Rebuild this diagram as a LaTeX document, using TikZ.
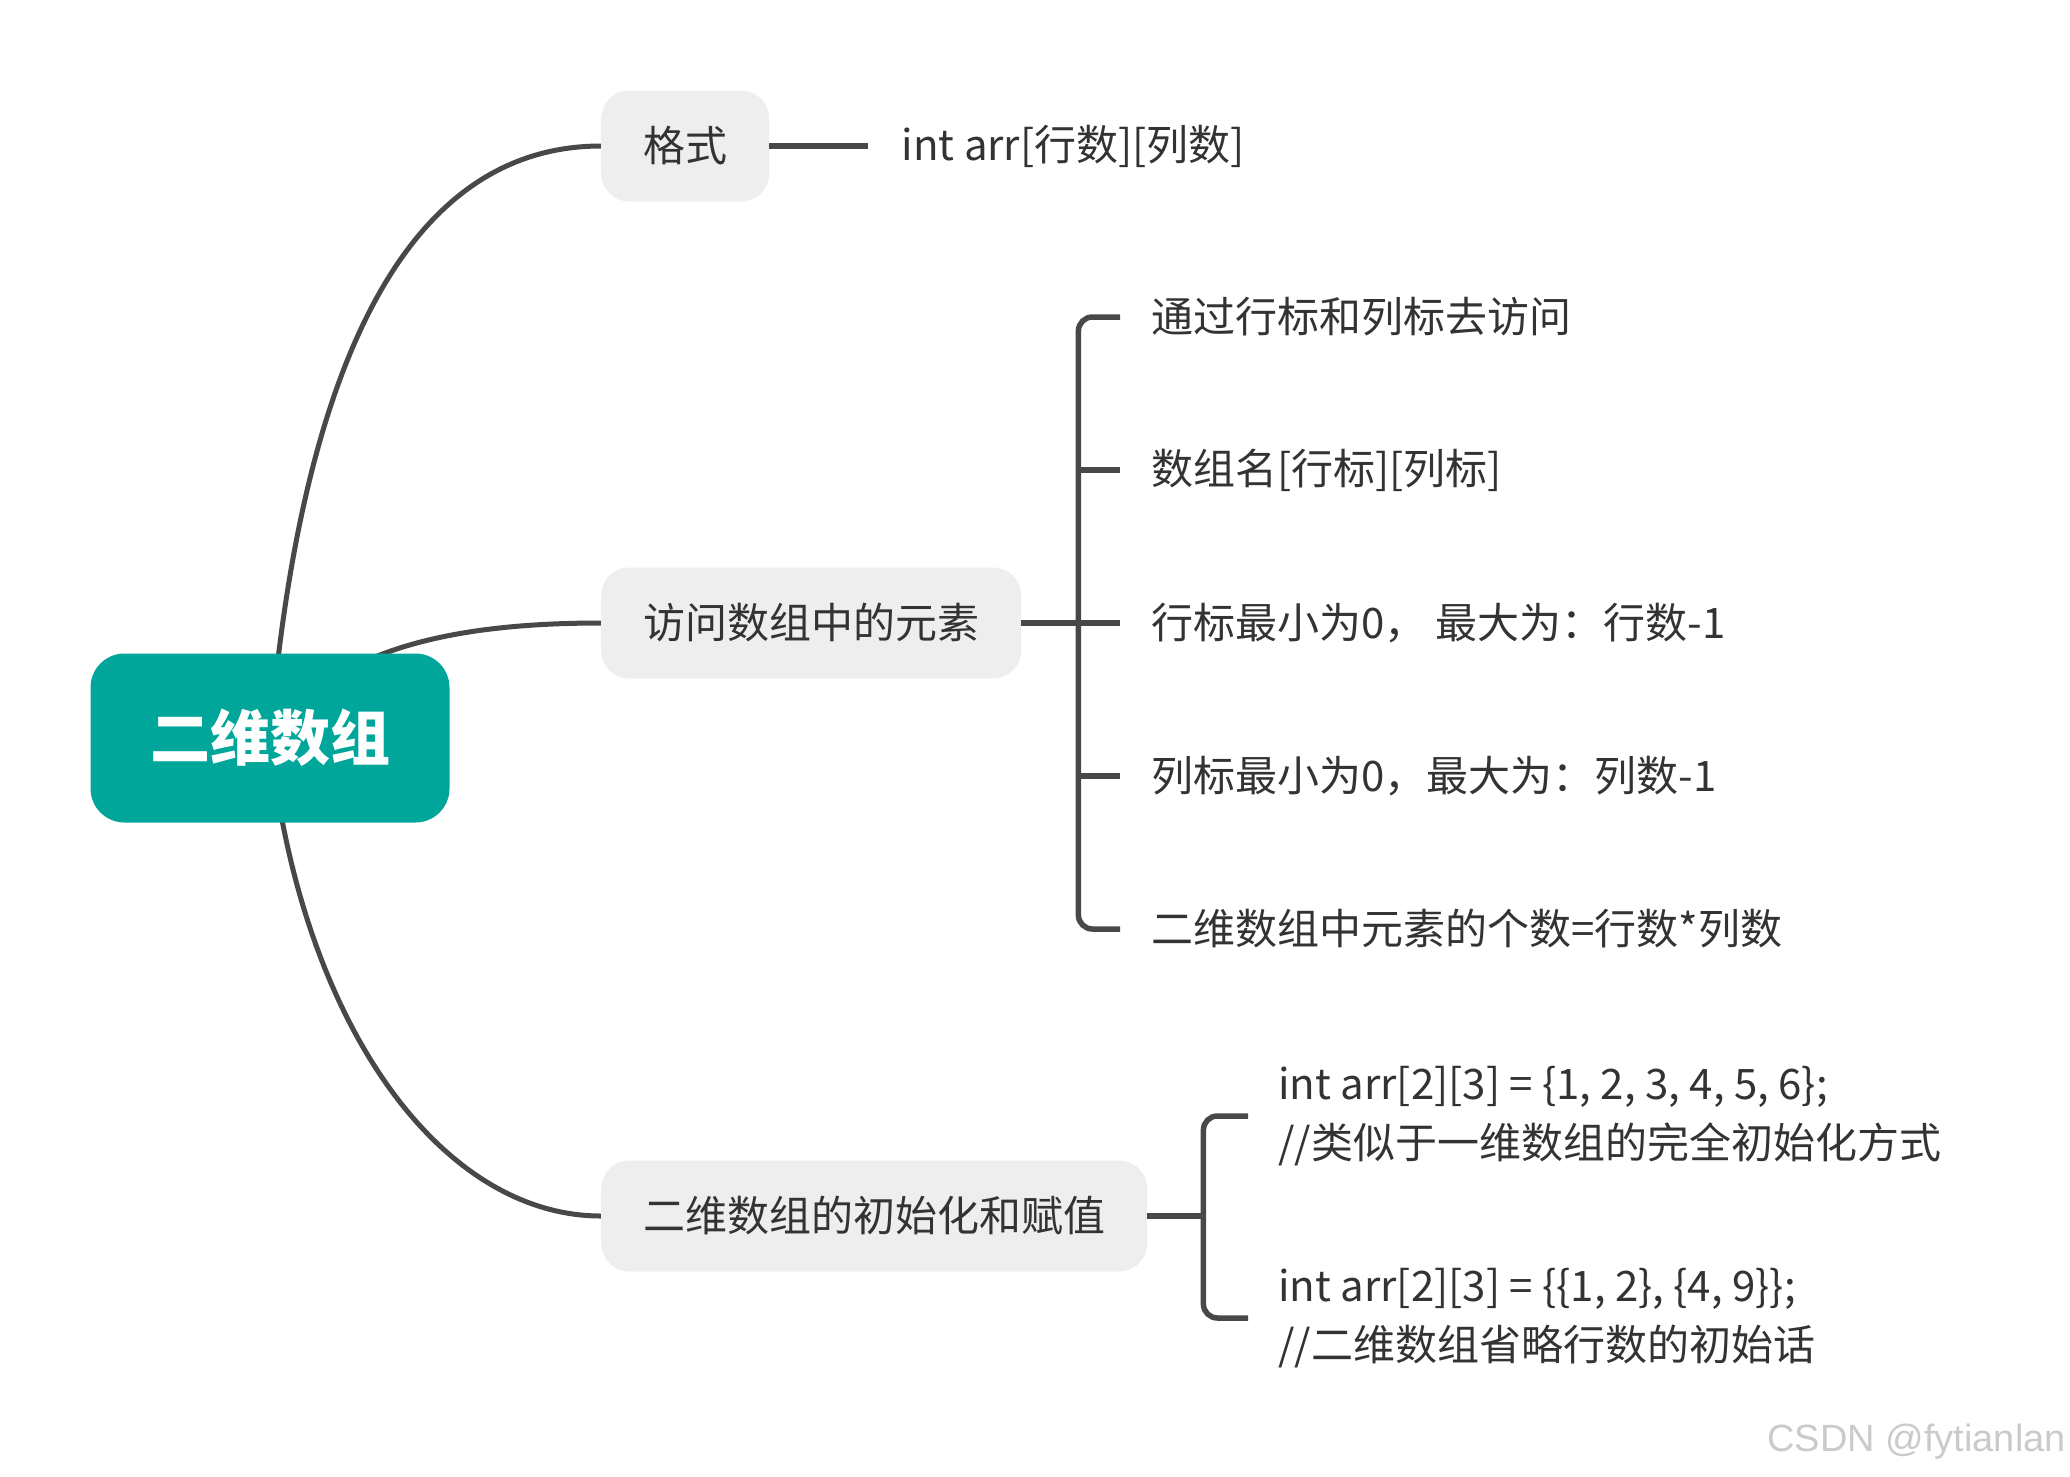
\documentclass[tikz,border=0pt]{standalone}
\usepackage{fontspec}
\setmainfont{Noto Sans CJK SC}
\newfontfamily\markfont{Liberation Sans}
\usetikzlibrary{positioning, calc, backgrounds}
\definecolor{mmTeal}{HTML}{00A69A}
\definecolor{mmTopic}{HTML}{EEEEEE}
\definecolor{mmText}{HTML}{333333}
\definecolor{mmLine}{HTML}{484848}
\definecolor{mmMark}{HTML}{CACACA}
\tikzset{
	rootbox/.style={fill=mmTeal, rounded corners=34pt, minimum width=359pt, minimum height=169pt,
		text=white, font=\fontsize{60}{72}\selectfont\bfseries},
	topicbox/.style={fill=mmTopic, rounded corners=28pt, inner xsep=42pt, minimum height=111pt,
		text=mmText, font=\fontsize{42}{50}\selectfont, anchor=west},
	leaf/.style={anchor=west, inner xsep=31pt, inner ysep=4pt, text=mmText,
		font=\fontsize{42}{59}\selectfont, align=left},
	curve/.style={draw=mmLine, line width=5pt},
	branch/.style={draw=mmLine, line width=5.5pt},
}

\begin{document}
\begin{tikzpicture}[x=1pt, y=-1pt]
	\useasboundingbox (0,0) rectangle (2070,1476);
	\node[rootbox] (root) at (270,738) {二维数组};
	\node[topicbox] (fmt) at (601,146) {格式};
	\node[topicbox] (acc) at (601,623) {访问数组中的元素};
	\node[topicbox] (init) at (601,1216) {二维数组的初始化和赋值};
	% main branches
	\begin{scope}[on background layer]
		\draw[curve] (root.center) .. controls +(30,-358) and +(-201,0) .. (fmt.west);
		\draw[curve] (root.center) .. controls +(60,-88) and +(-151,0) .. (acc.west);
		\draw[curve] (root.center) .. controls +(30,286) and +(-160,0) .. (init.west);
	\end{scope}
	% format
	\node[leaf, inner xsep=33pt, right=99pt of fmt] (fmtval) {int arr[行数][列数]};
	\draw[branch] (fmt.east) -- (fmtval.west);
	% access
	\foreach \txt [count=\i] in {{通过行标和列标去访问}, {数组名[行标][列标]}, {行标最小为0， 最大为：行数-1},
		{列标最小为0，最大为：列数-1}, {二维数组中元素的个数=行数*列数}}
		\node[leaf] (acc\i) at (1120,{317+153*(\i-1)}) {\txt};
	\coordinate[right=57pt of acc.east] (accfork);
	\draw[branch, rounded corners=14pt] (acc1.west) -| (accfork) |- (acc5.west);
	\draw[branch] (acc.east) -- (acc3.west);
	\draw[branch] (acc2.west) -- (acc2.west -| accfork);
	\draw[branch] (acc4.west) -- (acc4.west -| accfork);
	% init
	\node[leaf, inner xsep=30pt] (ini1) at (1248,1116) {int arr[2][3] = \{1, 2, 3, 4, 5, 6\};\\//类似于一维数组的完全初始化方式};
	\node[leaf, inner xsep=30pt] (ini2) at (1248,1318) {int arr[2][3] = \{\{1, 2\}, \{4, 9\}\};\\//二维数组省略行数的初始话};
	\coordinate[right=56pt of init.east] (initfork);
	\draw[branch, rounded corners=14pt] (ini1.west) -| (initfork) |- (ini2.west);
	\draw[branch] (init.east) -- (initfork);
	\node[anchor=east, inner sep=0pt, text=mmMark, font=\markfont\fontsize{38}{40}\selectfont] (mark) at (2066,1442) {CSDN @fytianlan};
\end{tikzpicture}
\end{document}
